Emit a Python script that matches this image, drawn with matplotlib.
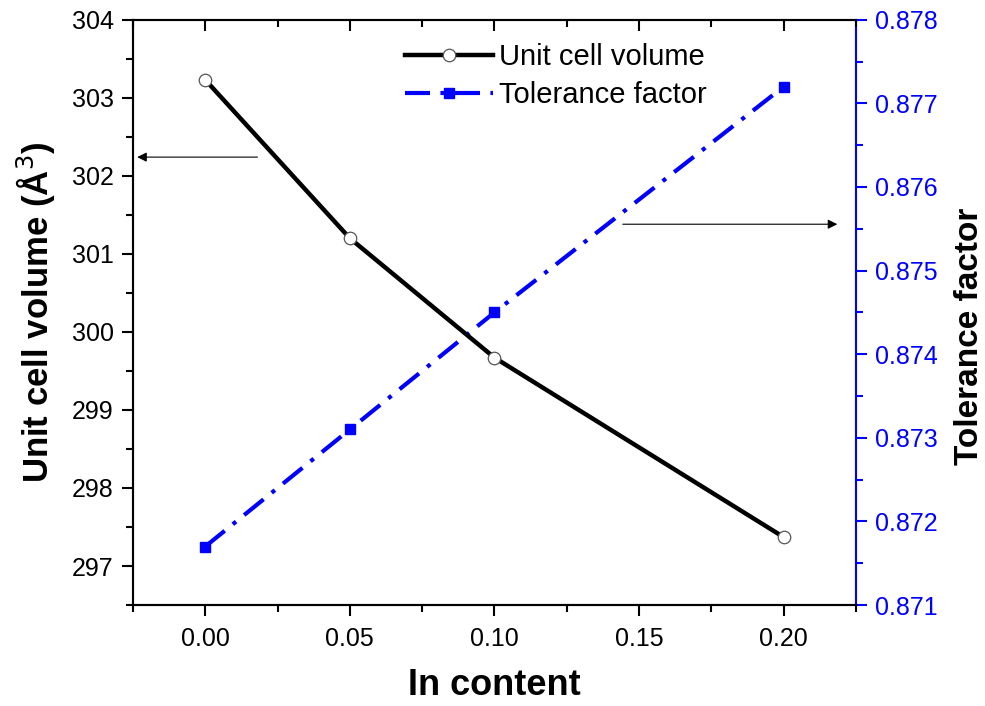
import numpy as np
import matplotlib.pyplot as plt

plt.rcParams['font.family'] = ['Liberation Sans', 'DejaVu Sans']

# data
in_content = [0.00, 0.05, 0.10, 0.20]
cell_volume = [303.23, 301.20, 299.67, 297.37]
tolerance = [0.8717, 0.8731, 0.8745, 0.8772]

fig = plt.figure(figsize=(9.85, 7.06), dpi=100)
ax = fig.add_axes([0.135, 0.143, 0.734, 0.829])
ax2 = ax.twinx()

l1, = ax.plot(in_content, cell_volume, color='black', lw=3.2, marker='o',
              markersize=9, markerfacecolor='white', markeredgecolor='#555555',
              markeredgewidth=0.9, label='Unit cell volume', zorder=3)
l2, = ax2.plot(in_content, tolerance, color='blue', lw=3, linestyle=(0, (6, 2.5, 1, 2.5)),
               marker='s', markersize=7, markerfacecolor='blue', markeredgecolor='blue',
               label='Tolerance factor')

ax.set_xlim(-0.025, 0.225)
ax.set_ylim(296.5, 304)
ax2.set_ylim(0.871, 0.878)

ax.set_xticks([0.00, 0.05, 0.10, 0.15, 0.20])
ax.set_xticks(np.arange(-0.025, 0.226, 0.05), minor=True)
ax.set_yticks(np.arange(297, 304.1, 1))
ax.set_yticks(np.arange(296.5, 304, 1), minor=True)
ax2.set_yticks(np.arange(0.871, 0.8781, 0.001))
ax2.set_yticks(np.arange(0.8715, 0.878, 0.001), minor=True)
ax.xaxis.set_major_formatter(plt.FormatStrFormatter('%.2f'))
ax.yaxis.set_major_formatter(plt.FormatStrFormatter('%d'))
ax2.yaxis.set_major_formatter(plt.FormatStrFormatter('%.3f'))

ax.tick_params(axis='x', which='major', direction='out', length=8, width=1.5,
               labelsize=18, pad=8, top=True)
ax.tick_params(axis='x', which='minor', direction='out', length=5, width=1.5, top=True)
ax.tick_params(axis='y', which='major', direction='out', length=8, width=1.5, labelsize=18, pad=6)
ax.tick_params(axis='y', which='minor', direction='out', length=5, width=1.5)
ax2.tick_params(axis='y', which='major', direction='out', length=8, width=1.5,
                labelsize=18, colors='blue', pad=6)
ax2.tick_params(axis='y', which='minor', direction='out', length=5, width=1.5, colors='blue')

# top ticks point inward
for t in ax.xaxis.get_major_ticks() + ax.xaxis.get_minor_ticks():
    t.tick2line.set_marker(3)

for s in ['left', 'bottom', 'top']:
    ax.spines[s].set_linewidth(1.5)
    ax2.spines[s].set_linewidth(1.5)
ax2.spines['right'].set_color('blue')
ax2.spines['right'].set_linewidth(1.5)
ax.spines['right'].set_visible(False)

ax.set_xlabel('In content', fontsize=26, fontweight='bold', labelpad=12)
ax.set_ylabel('Unit cell volume (Å$^3$)', fontsize=25, fontweight='bold', labelpad=10)
ax2.set_ylabel('Tolerance factor', fontsize=24, fontweight='bold')
ax2.yaxis.set_label_coords(1.135, 0.46)

ax.annotate('', xy=(-0.0245, 302.24), xytext=(0.019, 302.24),
            arrowprops=dict(arrowstyle='-|>', color='black', lw=0.8, mutation_scale=14))
ax.annotate('', xy=(0.2195, 301.38), xytext=(0.1434, 301.38),
            arrowprops=dict(arrowstyle='-|>', color='black', lw=0.8, mutation_scale=14))

ax.set_zorder(ax2.get_zorder() + 1)
ax.patch.set_visible(False)
ax.legend([l1, l2], ['Unit cell volume', 'Tolerance factor'], loc='upper center',
          bbox_to_anchor=(0.585, 1.005), frameon=False, fontsize=21, handlelength=3.0,
          handletextpad=0.2, labelspacing=0.35)

fig.savefig('out.png', dpi=100)
